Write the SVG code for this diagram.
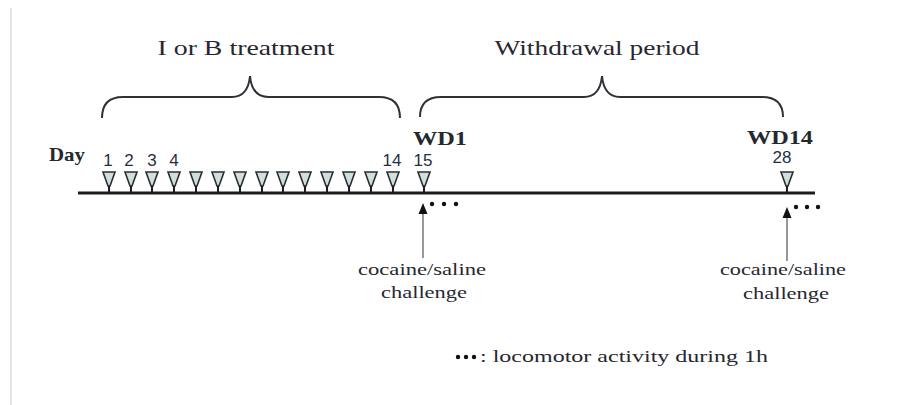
<svg xmlns="http://www.w3.org/2000/svg" xmlns:xlink="http://www.w3.org/1999/xlink" width="900" height="405" viewBox="0 0 900 405">
<style>
.serif{font-family:"Liberation Serif","DejaVu Serif",serif;fill:#262830}
.sans{font-family:"Liberation Sans",Arial,sans-serif;fill:#1f2f45;font-size:17px}
.title{font-size:21px}
.bold{font-weight:bold}
.lab{font-size:17px}
.brace{fill:none;stroke:#2e3236;stroke-width:2}
.axis{stroke:#1c1c1c;stroke-width:3}
.tri{fill:#d2dede;stroke:#2a2f33;stroke-width:1.6}
.shaft{stroke:#7a7f85;stroke-width:1.6}
.head{fill:#111}
.dot{fill:#111}
</style>
<defs>
<g id="tri">
<path class="tri" d="M-6,172 L6,172 L1,186 L-1,186 Z"/>
<line x1="0" y1="186" x2="0" y2="192" stroke="#1c1c1c" stroke-width="2"/>
</g>
</defs>
<rect width="900" height="405" fill="#ffffff"/>
<line x1="11" y1="8" x2="11" y2="405" stroke="#dfe5ec" stroke-width="2"/>

<g id="title-treatment">
<text class="serif title" x="246" y="55" text-anchor="middle" textLength="177" lengthAdjust="spacingAndGlyphs">I or B treatment</text>
<path class="brace" d="M102,118 Q102,97 123,97 L232,97 Q248,97 250,76 Q252,97 268,97 L379,97 Q400,97 400,118"/>
</g>
<g id="title-withdrawal">
<text class="serif title" x="597" y="55" text-anchor="middle" textLength="205" lengthAdjust="spacingAndGlyphs">Withdrawal period</text>
<path class="brace" d="M420,117 Q420,97 441,97 L584,97 Q600,97 602,76 Q604,97 620,97 L762,97 Q783,97 783,117"/>
</g>

<g id="timeline">
<line class="axis" x1="78" y1="193" x2="815" y2="193"/>
<use xlink:href="#tri" x="109"/>
<use xlink:href="#tri" x="131"/>
<use xlink:href="#tri" x="152"/>
<use xlink:href="#tri" x="174"/>
<use xlink:href="#tri" x="196"/>
<use xlink:href="#tri" x="218"/>
<use xlink:href="#tri" x="240"/>
<use xlink:href="#tri" x="262"/>
<use xlink:href="#tri" x="283"/>
<use xlink:href="#tri" x="305"/>
<use xlink:href="#tri" x="327"/>
<use xlink:href="#tri" x="349"/>
<use xlink:href="#tri" x="371"/>
<use xlink:href="#tri" x="393"/>
<use xlink:href="#tri" x="424"/>
<use xlink:href="#tri" x="787"/>
</g>

<g id="day-labels">
<text class="serif bold" font-size="19" x="49" y="161" textLength="36" lengthAdjust="spacingAndGlyphs">Day</text>
<text class="sans" x="108" y="166" text-anchor="middle">1</text>
<text class="sans" x="129" y="166" text-anchor="middle">2</text>
<text class="sans" x="152" y="166" text-anchor="middle">3</text>
<text class="sans" x="174" y="166" text-anchor="middle">4</text>
<text class="sans" x="392" y="166" text-anchor="middle">14</text>
<text class="sans" x="423" y="166" text-anchor="middle">15</text>
<text class="sans" x="782" y="163" text-anchor="middle">28</text>
</g>

<g id="wd1">
<text class="serif bold" font-size="19" x="413" y="145" textLength="54" lengthAdjust="spacingAndGlyphs">WD1</text>
</g>
<g id="wd14">
<text class="serif bold" font-size="19" x="747" y="144" textLength="66" lengthAdjust="spacingAndGlyphs">WD14</text>
</g>

<g id="connectors">
<line class="shaft" x1="423" y1="258" x2="423" y2="212"/>
<path class="head" d="M423,203 L427.5,214 L418.5,214 Z"/>
<line class="shaft" x1="787" y1="261" x2="787" y2="216"/>
<path class="head" d="M787,207 L791.5,218 L782.5,218 Z"/>
</g>

<g id="dots1">
<circle class="dot" cx="432" cy="204" r="2.2"/>
<circle class="dot" cx="444" cy="204" r="2.2"/>
<circle class="dot" cx="456" cy="204" r="2.2"/>
</g>
<g id="dots2">
<circle class="dot" cx="796" cy="207" r="2.2"/>
<circle class="dot" cx="807" cy="207" r="2.2"/>
<circle class="dot" cx="818" cy="207" r="2.2"/>
</g>

<g id="challenge1">
<text class="serif lab" x="422" y="275" text-anchor="middle" textLength="128" lengthAdjust="spacingAndGlyphs">cocaine/saline</text>
<text class="serif lab" x="424" y="298" text-anchor="middle" textLength="86" lengthAdjust="spacingAndGlyphs">challenge</text>
</g>
<g id="challenge2">
<text class="serif lab" x="783" y="275" text-anchor="middle" textLength="126" lengthAdjust="spacingAndGlyphs">cocaine/saline</text>
<text class="serif lab" x="786" y="299" text-anchor="middle" textLength="86" lengthAdjust="spacingAndGlyphs">challenge</text>
</g>

<g id="legend">
<circle class="dot" cx="458" cy="357" r="2.2"/>
<circle class="dot" cx="466" cy="357" r="2.2"/>
<circle class="dot" cx="474" cy="357" r="2.2"/>
<text class="serif lab" x="480" y="362" textLength="288" lengthAdjust="spacingAndGlyphs">: locomotor activity during 1h</text>
</g>
</svg>
